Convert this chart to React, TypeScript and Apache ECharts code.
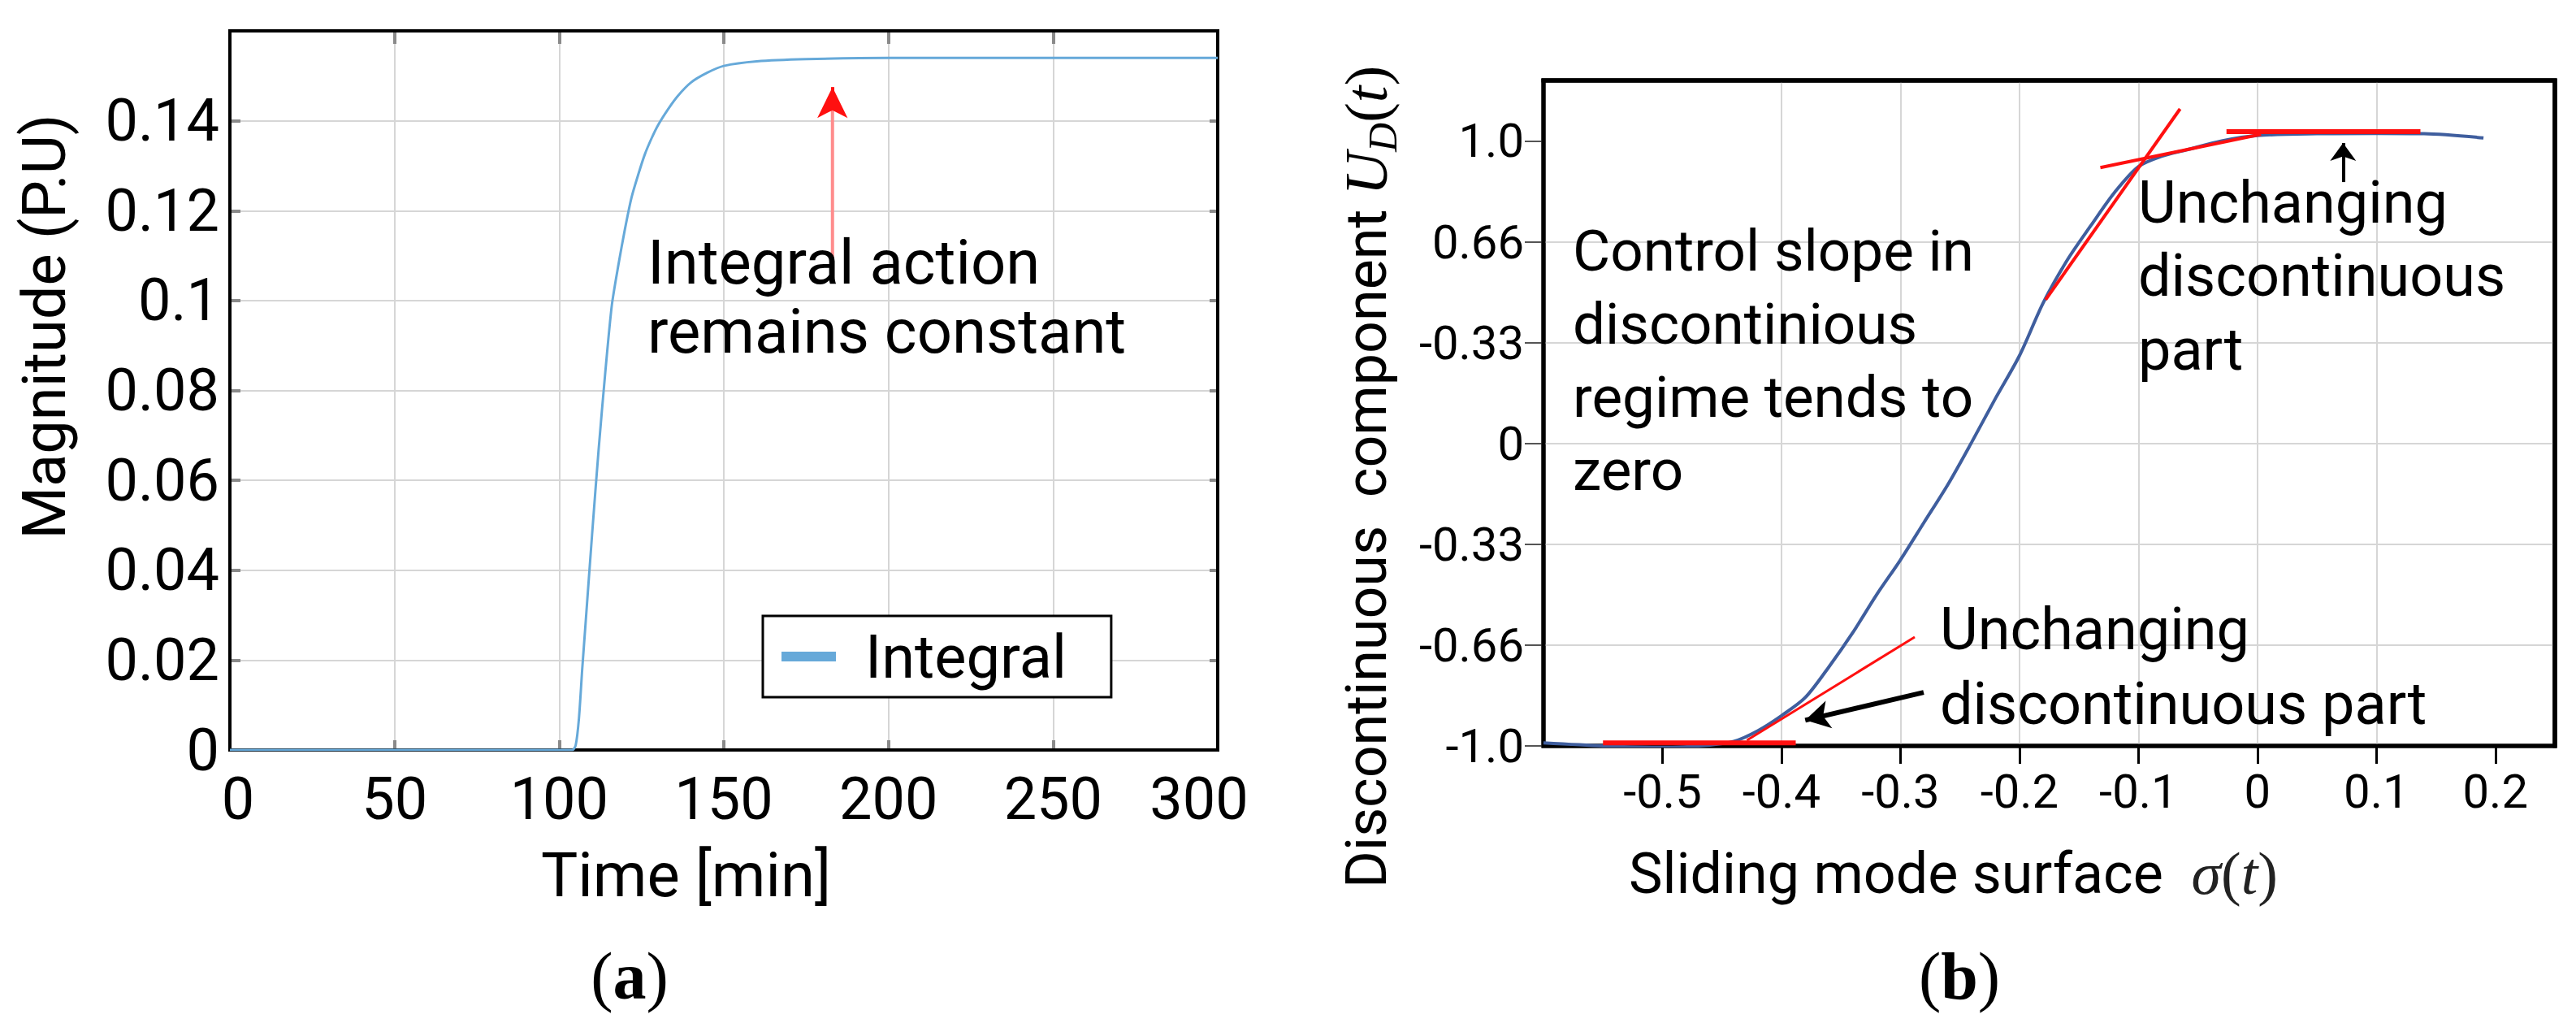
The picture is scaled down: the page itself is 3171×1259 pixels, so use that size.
import React, { useEffect, useRef } from 'react';
import * as echarts from 'echarts';

const FONT = "Roboto, 'Open Sans', sans-serif";
const SERIF = "'Liberation Serif', 'DejaVu Serif', serif";

// ---- Panel (a): integral action vs time ----
const XA_RANGE = [0, 300];
const YA_RANGE = [0, 0.16];
const TIME = [0, 100, 104, 105, 106, 107, 108, 110, 112, 114, 116, 118, 120, 122, 124, 126, 128, 130, 133, 136, 140, 145, 150, 160, 175, 200, 250, 300];
const INTEGRAL = [0, 0, 0, 0.001, 0.007, 0.018, 0.028, 0.048, 0.067, 0.084, 0.099, 0.108, 0.116, 0.123, 0.128, 0.1325, 0.136, 0.139, 0.1425, 0.1455, 0.1485, 0.1507, 0.1522, 0.1532, 0.1537, 0.154, 0.154, 0.154];
const ARROW_A = { t: 183, from: 0.109, to: 0.1475 };

// ---- Panel (b): discontinuous component vs sliding surface ----
const XB_RANGE = [-0.6, 0.25];
const YB_RANGE = [-1, 1.2];
const SIGMA = [-0.6, -0.55, -0.5, -0.46, -0.44, -0.42, -0.4, -0.38, -0.36, -0.34, -0.32, -0.3, -0.28, -0.26, -0.24, -0.22, -0.2, -0.18, -0.16, -0.14, -0.12, -0.1, -0.08, -0.06, -0.03, 0, 0.05, 0.1, 0.14, 0.19];
const UD = [-0.99, -1.0, -1.005, -0.997, -0.985, -0.95, -0.9, -0.84, -0.738, -0.625, -0.5, -0.385, -0.26, -0.135, 0.005, 0.15, 0.29, 0.465, 0.605, 0.72, 0.83, 0.915, 0.95, 0.97, 1.0, 1.018, 1.024, 1.025, 1.024, 1.01];

// red tangent segments [[x1,y1],[x2,y2]] and their widths
const RED_SEGMENTS = [
  [[-0.55, -0.99], [-0.388, -0.99]],
  [[-0.429, -0.981], [-0.288, -0.64]],
  [[-0.178, 0.475], [-0.065, 1.106]],
  [[-0.132, 0.912], [0.003, 1.022]],
  [[-0.026, 1.031], [0.137, 1.031]],
];
const RED_WIDTHS = [6, 3, 4, 4, 6];

// black annotation arrows [from, to]
const ARROW_UP = [[0.072, 0.864], [0.072, 0.993]];
const ARROW_LOW = [[-0.2805, -0.823], [-0.38, -0.915]];

const XA_TICKS = [0, 50, 100, 150, 200, 250, 300];
const XB_TICKS = [-0.5, -0.4, -0.3, -0.2, -0.1, 0, 0.1, 0.2];
const YB_TICKS = [-1, -2 / 3, -1 / 3, 0, 1 / 3, 2 / 3, 1];
const YB_LABELS = ['-1.0', '-0.66', '-0.33', '0', '-0.33', '0.66', '1.0'];

const gridLine = { show: true, showMinLine: false, showMaxLine: false, lineStyle: { color: '#d6d6d6', width: 2 } };
const noLine = { show: false, onZero: false };
const blackLine = { show: true, onZero: false, lineStyle: { color: '#000', width: 4 } };

function frameArea(xr: number[], yr: number[], w: number) {
  return {
    silent: true,
    label: { show: false },
    itemStyle: { color: 'rgba(0,0,0,0)', borderColor: '#000', borderWidth: w },
    emphasis: { disabled: true },
    data: [[{ coord: [xr[0], yr[0]] }, { coord: [xr[1], yr[1]] }]],
  };
}

function buildOption() {
  const tickGray = { color: '#8a8a8a', width: 4 };
  return {
    animation: false,
    backgroundColor: '#ffffff',
    textStyle: { fontFamily: FONT },
    legend: {
      data: ['Integral'],
      left: 939,
      top: 758,
      icon: 'rect',
      itemWidth: 67,
      itemHeight: 12,
      padding: [12, 55, 12, 23],
      borderColor: '#000',
      borderWidth: 3,
      backgroundColor: '#fff',
      selectedMode: false,
      z: 20,
      textStyle: { fontFamily: FONT, fontSize: 74, color: '#000', lineHeight: 76, padding: [0, 0, 0, 31] },
    },
    grid: [
      { left: 283, top: 38, width: 1216, height: 885, show: false, containLabel: false, outerBoundsMode: 'none' },
      { left: 1900, top: 99, width: 1245, height: 819, show: true, borderColor: '#000', borderWidth: 5, backgroundColor: 'rgba(0,0,0,0)', containLabel: false, outerBoundsMode: 'none' },
    ],
    xAxis: [
      {
        gridIndex: 0, type: 'value', min: XA_RANGE[0], max: XA_RANGE[1], interval: 50, position: 'bottom',
        axisLine: noLine,
        axisTick: { show: true, inside: true, length: 12, lineStyle: tickGray },
        axisLabel: {
          show: true, margin: 24, fontSize: 72, fontFamily: FONT, color: '#000',
          showMinLabel: true, showMaxLabel: true,
          formatter: (v: number) => {
            const r = Math.round(v);
            if (!XA_TICKS.includes(r)) return '';
            if (r === 300) return '{m|300}';
            if (r === 0) return '{z|0}';
            return String(r);
          },
          rich: {
            m: { fontSize: 72, fontFamily: FONT, color: '#000', padding: [0, 46, 0, 0] },
            z: { fontSize: 72, fontFamily: FONT, color: '#000', padding: [0, 0, 0, 20] },
          },
        },
        splitLine: gridLine,
      },
      {
        gridIndex: 0, type: 'value', min: XA_RANGE[0], max: XA_RANGE[1], interval: 50, position: 'top',
        axisLine: noLine,
        axisTick: { show: true, inside: true, length: 16, lineStyle: tickGray },
        axisLabel: { show: false },
        splitLine: { show: false },
      },
      {
        gridIndex: 1, type: 'value', min: XB_RANGE[0], max: XB_RANGE[1], interval: 0.1, position: 'bottom',
        axisLine: blackLine,
        axisTick: { show: true, inside: false, length: 22, customValues: XB_TICKS, lineStyle: { color: '#000', width: 3 } },
        axisLabel: {
          show: true, margin: 27, fontSize: 58, fontFamily: FONT, color: '#000',
          showMinLabel: true, showMaxLabel: true,
          customValues: XB_TICKS,
          formatter: (v: number) => {
            if (Math.abs(v + 0.6) < 1e-6 || Math.abs(v - 0.25) < 1e-6) return '';
            const r = Math.round(v * 10) / 10;
            return r === 0 ? '0' : String(r);
          },
        },
        splitLine: gridLine,
      },
    ],
    yAxis: [
      {
        gridIndex: 0, type: 'value', min: YA_RANGE[0], max: YA_RANGE[1], interval: 0.02, position: 'left',
        axisLine: noLine,
        axisTick: { show: true, inside: true, length: 13, lineStyle: tickGray },
        axisLabel: {
          show: true, margin: 13, fontSize: 72, fontFamily: FONT, color: '#000',
          showMinLabel: true, showMaxLabel: true,
          formatter: (v: number) => (Math.abs(v - 0.16) < 1e-9 ? '' : String(+v.toFixed(2))),
        },
        splitLine: gridLine,
      },
      {
        gridIndex: 0, type: 'value', min: YA_RANGE[0], max: YA_RANGE[1], interval: 0.02, position: 'right',
        axisLine: noLine,
        axisTick: { show: true, inside: true, length: 10, lineStyle: tickGray },
        axisLabel: { show: false },
        splitLine: { show: false },
      },
      {
        gridIndex: 1, type: 'value', min: YB_RANGE[0], max: YB_RANGE[1], interval: 1 / 3, position: 'left',
        axisLine: blackLine,
        axisTick: { show: true, inside: false, length: 23, customValues: YB_TICKS, lineStyle: { color: '#555', width: 2 } },
        axisLabel: {
          show: true, margin: 24, fontSize: 58, fontFamily: FONT, color: '#000',
          showMinLabel: true, showMaxLabel: true,
          customValues: YB_TICKS,
          formatter: (v: number) => {
            if (Math.abs(v * 3 - Math.round(v * 3)) > 1e-6) return '';
            return YB_LABELS[Math.round(v * 3) + 3] ?? '';
          },
        },
        splitLine: gridLine,
      },
    ],
    series: [
      {
        name: 'Integral', type: 'line', xAxisIndex: 0, yAxisIndex: 0,
        data: TIME.map((t, i) => [t, INTEGRAL[i]]),
        showSymbol: false, smooth: 0.25,
        lineStyle: { color: '#66a9d9', width: 3 }, itemStyle: { color: '#66a9d9' },
        z: 3, silent: true,
        markArea: frameArea(XA_RANGE, YA_RANGE, 4),
      },
      {
        name: 'arrowA', type: 'line', xAxisIndex: 0, yAxisIndex: 0,
        data: [[ARROW_A.t, ARROW_A.from], [ARROW_A.t, ARROW_A.to - 0.002]],
        showSymbol: false, lineStyle: { color: '#ff8c8c', width: 4 }, silent: true, z: 4,
        markLine: {
          silent: true, symbol: ['none', 'arrow'], symbolSize: [28, 38], label: { show: false },
          lineStyle: { color: '#ff1010', width: 4, type: 'solid' },
          data: [[{ coord: [ARROW_A.t, ARROW_A.to - 0.003] }, { coord: [ARROW_A.t, ARROW_A.to] }]],
        },
      },
      {
        // top and right edges of panel (b), through the axis extents
        name: 'frameB', type: 'line', xAxisIndex: 2, yAxisIndex: 2,
        data: [[XB_RANGE[0], YB_RANGE[1]], [XB_RANGE[1], YB_RANGE[1]], [XB_RANGE[1], YB_RANGE[0]]],
        showSymbol: false, clip: false, silent: true, z: 10,
        lineStyle: { color: '#000', width: 5, cap: 'square', join: 'miter' },
        markArea: frameArea(XB_RANGE, YB_RANGE, 5),
      },
      {
        name: 'Ud', type: 'line', xAxisIndex: 2, yAxisIndex: 2,
        data: SIGMA.map((s, i) => [s, UD[i]]),
        showSymbol: false, smooth: 0.3,
        lineStyle: { color: '#3f5e9e', width: 4 }, silent: true, z: 3,
      },
      ...RED_SEGMENTS.map((seg, i) => ({
        name: 'red' + i, type: 'line', xAxisIndex: 2, yAxisIndex: 2,
        data: seg, showSymbol: false, silent: true, z: 4,
        lineStyle: { color: '#ff1010', width: RED_WIDTHS[i] },
        ...(i === 0
          ? {
              markLine: {
                silent: true, symbol: ['none', 'arrow'], symbolSize: [26, 30], label: { show: false },
                lineStyle: { color: '#000', width: 6, type: 'solid' },
                data: [[{ coord: ARROW_LOW[0] }, { coord: ARROW_LOW[1] }]],
              },
            }
          : {}),
        ...(i === 4
          ? {
              markLine: {
                silent: true, symbol: ['none', 'arrow'], symbolSize: [24, 22], label: { show: false },
                lineStyle: { color: '#000', width: 4, type: 'solid' },
                data: [[{ coord: ARROW_UP[0] }, { coord: ARROW_UP[1] }]],
              },
            }
          : {}),
      })),
    ],
    graphic: [
      {
        type: 'text', x: 797, y: 280, z: 100, silent: true,
        style: { text: 'Integral action\nremains constant', fontSize: 76, fontFamily: FONT, fill: '#000', lineHeight: 85, align: 'left', verticalAlign: 'top' },
      },
      {
        type: 'text', x: 1936, y: 263, z: 100, silent: true,
        style: { text: 'Control slope in\ndiscontinious\nregime tends to\nzero', fontSize: 71, fontFamily: FONT, fill: '#000', lineHeight: 90, align: 'left', verticalAlign: 'top' },
      },
      {
        type: 'text', x: 2632, y: 204, z: 100, silent: true,
        style: { text: 'Unchanging\ndiscontinuous\npart', fontSize: 72, fontFamily: FONT, fill: '#000', lineHeight: 90.5, align: 'left', verticalAlign: 'top' },
      },
      {
        type: 'text', x: 2388, y: 728, z: 100, silent: true,
        style: { text: 'Unchanging\ndiscontinuous part', fontSize: 72, fontFamily: FONT, fill: '#000', lineHeight: 92, align: 'left', verticalAlign: 'top' },
      },
      {
        type: 'text', x: 54, y: 402, rotation: Math.PI / 2, z: 100, silent: true,
        style: { text: 'Magnitude (P.U)', fontSize: 74, fontFamily: FONT, fill: '#000', align: 'center', verticalAlign: 'middle' },
      },
      {
        type: 'text', x: 666, y: 1077, z: 100, silent: true,
        style: { text: 'Time [min]', fontSize: 76, fontFamily: FONT, fill: '#000', align: 'left', verticalAlign: 'middle' },
      },
      {
        type: 'text', x: 1682, y: 587, rotation: Math.PI / 2, z: 100, silent: true,
        style: {
          text: '{s|Discontinuous  component }{m|U}{d|D}{p|(}{m|t}{p|)}',
          align: 'center', verticalAlign: 'middle', fill: '#000',
          rich: {
            s: { fontFamily: FONT, fontSize: 70, lineHeight: 90, fill: '#000' },
            m: { fontFamily: SERIF, fontStyle: 'italic', fontSize: 74, lineHeight: 90, fill: '#000' },
            d: { fontFamily: SERIF, fontStyle: 'italic', fontSize: 50, lineHeight: 50, verticalAlign: 'bottom', fill: '#000' },
            p: { fontFamily: SERIF, fontSize: 74, lineHeight: 90, fill: '#000' },
          },
        },
      },
      {
        type: 'text', x: 2005, y: 1075, z: 100, silent: true,
        style: {
          text: '{s|Sliding mode surface  }{m|σ}{p|(}{m|t}{p|)}',
          align: 'left', verticalAlign: 'middle', fill: '#000',
          rich: {
            s: { fontFamily: FONT, fontSize: 70, lineHeight: 90, fill: '#000' },
            m: { fontFamily: SERIF, fontStyle: 'italic', fontSize: 74, lineHeight: 90, fill: '#222' },
            p: { fontFamily: SERIF, fontSize: 74, lineHeight: 90, fill: '#222' },
          },
        },
      },
      {
        type: 'text', x: 775, y: 1201, z: 100, silent: true,
        style: {
          text: '{p|(}{b|a}{p|)}', align: 'center', verticalAlign: 'middle',
          rich: {
            p: { fontFamily: SERIF, fontSize: 82, lineHeight: 100, fill: '#000' },
            b: { fontFamily: SERIF, fontSize: 82, fontWeight: 'bold', lineHeight: 100, fill: '#000' },
          },
        },
      },
      {
        type: 'text', x: 2412, y: 1201, z: 100, silent: true,
        style: {
          text: '{p|(}{b|b}{p|)}', align: 'center', verticalAlign: 'middle',
          rich: {
            p: { fontFamily: SERIF, fontSize: 82, lineHeight: 100, fill: '#000' },
            b: { fontFamily: SERIF, fontSize: 82, fontWeight: 'bold', lineHeight: 100, fill: '#000' },
          },
        },
      },
    ],
  };
}

export default function App() {
  const ref = useRef<HTMLDivElement>(null);
  useEffect(() => {
    if (!ref.current) return;
    const chart = echarts.init(ref.current, null, { renderer: 'svg' });
    chart.setOption(buildOption() as any);
    return () => chart.dispose();
  }, []);
  return (
    <div
      ref={ref}
      style={{ position: 'absolute', left: 0, top: 0, width: 3171, height: 1259, background: '#fff' }}
    />
  );
}
